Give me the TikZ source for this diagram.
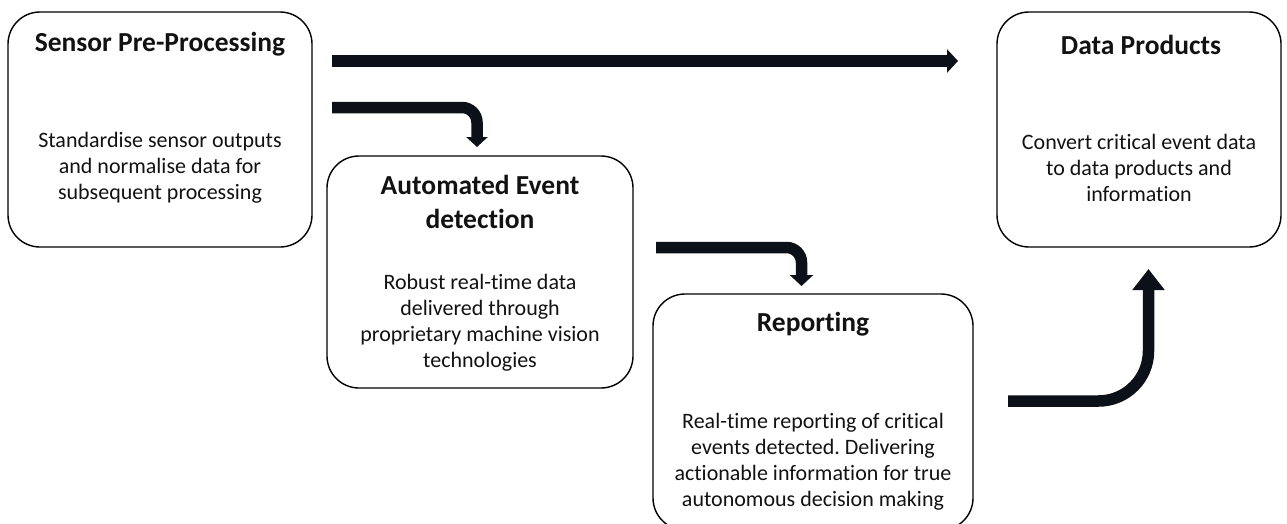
\documentclass[tikz,border=0pt]{standalone}
\usepackage{fontspec}
\setmainfont{Carlito}[Ligatures=NoCommon]
\usetikzlibrary{arrows.meta}
\definecolor{arr}{RGB}{12,16,24}
\definecolor{txt}{RGB}{18,18,18}
\frenchspacing
\tikzset{
  box/.style={draw=black, line width=1.4pt, rounded corners=32pt, inner sep=0pt, fill=none},
  ttl/.style={font=\fontsize{27.5}{34}\selectfont\bfseries, text=txt, align=center, inner sep=0pt},
  bdy/.style={font=\fontsize{22}{26}\selectfont, text=txt, align=center, inner sep=0pt},
  flow/.style={draw=arr, line width=11.5pt},
}
\begin{document}
\begin{tikzpicture}[x=1pt,y=-1pt]
\useasboundingbox (0,0) rectangle (1287,523);
\clip (0,0) rectangle (1287,523);
% boxes
\node[box, minimum width=304pt, minimum height=235pt] (pre) at (160,129.5) {};
\node[box, minimum width=306pt, minimum height=232pt] (aed) at (480,272) {};
\node[box, minimum width=320pt, minimum height=236pt] (rep) at (813,412) {};
\node[box, minimum width=284pt, minimum height=235pt] (dp) at (1139,129.5) {};
% texts
\node[ttl] (preT) at (160,44.5) {Sensor Pre-Processing};
\node[bdy] (preB) at (160,168) {Standardise sensor outputs\\and normalise data for\\subsequent processing};
\node[ttl] (aedT) at (480,201.5) {Automated Event\\detection};
\node[bdy] (aedB) at (480,322.5) {Robust real-time data\\delivered through\\proprietary machine vision\\technologies};
\node[ttl] (repT) at (813,324.5) {Reporting};
\node[bdy] (repB) at (813,461.5) {Real-time reporting of critical\\events detected. Delivering\\actionable information for true\\autonomous decision making};
\node[ttl] (dpT) at (1141,44.5) {Data Products};
\node[bdy] (dpB) at (1139,167.5) {Convert critical event data\\to data products and\\information};
% arrow end points
\coordinate (a1s) at (332,61);
\coordinate (a1e) at (958,61);
\coordinate (a2s) at (332,107.5);
\coordinate (a2c) at (477,107.5);
\coordinate (a2e) at (477,147);
\coordinate (a3s) at (656,247.5);
\coordinate (a3c) at (801.5,247.5);
\coordinate (a3e) at (801.5,286);
\coordinate (a4s) at (1008,401);
\coordinate (a4c) at (1148.5,401);
\coordinate (a4e) at (1148.5,269);
% arrows
\draw[flow, line width=12pt, -{Triangle[length=11pt,width=23pt]}] (a1s) -- (a1e);
\draw[flow, rounded corners=15pt, -{Triangle[length=10pt,width=21pt]}] (a2s) -- (a2c) -- (a2e);
\draw[flow, rounded corners=15pt, -{Triangle[length=11pt,width=23pt]}] (a3s) -- (a3c) -- (a3e);
\draw[flow, rounded corners=50pt, -{Triangle[length=21pt,width=31pt]}] (a4s) -- (a4c) -- (a4e);
\end{tikzpicture}
\end{document}
